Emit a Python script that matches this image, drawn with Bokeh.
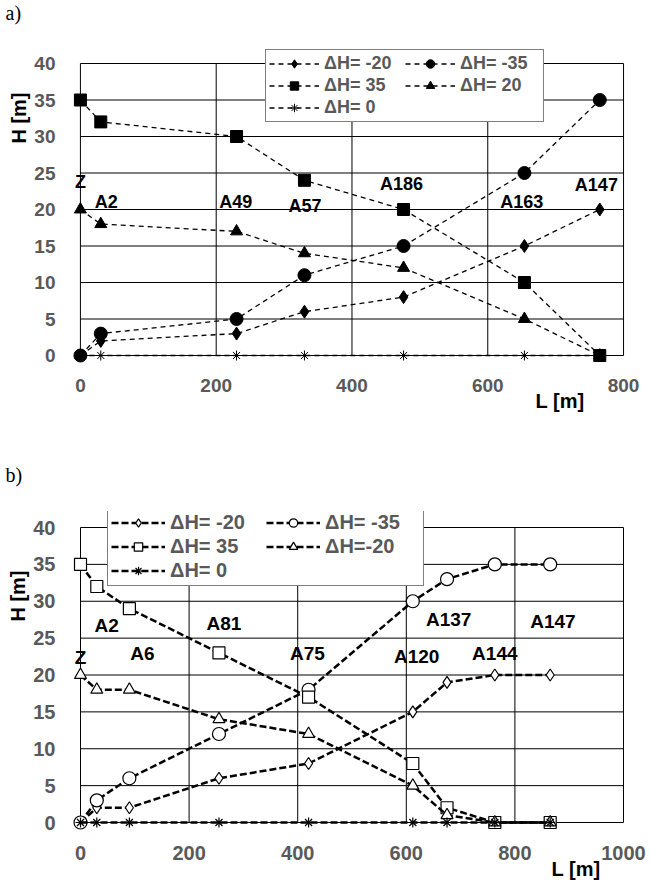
import math
from bokeh.plotting import figure
from bokeh.layouts import column
from bokeh.models import (Legend, LegendItem, LabelSet, ColumnDataSource,
                          FixedTicker, Range1d, Title)
from bokeh.core.properties import value
from bokeh.embed import file_html
from bokeh.resources import INLINE

# ---------------- data: panel a ----------------
a_L = [0, 30, 230, 330, 476, 654, 765]
a_m20 = [0, 2, 3, 6, 8, 15, 20]
a_m35 = [0, 3, 5, 11, 15, 25, 35]
a_p35 = [35, 32, 30, 24, 20, 10, 0]
a_p20 = [20, 18, 17, 14, 12, 5, 0]
a_zero = [0, 0, 0, 0, 0, 0, 0]
a_names = ["Z", "A2", "A49", "A57", "A186", "A163", "A147"]
a_name_x = [0, 38, 229, 331, 473, 650, 760]
a_name_y = [23.7, 21.0, 21.0, 20.5, 23.5, 21.0, 23.3]
a_xticks = [0, 200, 400, 600, 800]

# ---------------- data: panel b ----------------
b_L = [0, 30, 90, 255, 420, 612, 675, 763, 865]
b_m20 = [0, 2, 2, 6, 8, 15, 19, 20, 20]
b_m35 = [0, 3, 6, 12, 18, 30, 33, 35, 35]
b_p35 = [35, 32, 29, 23, 17, 8, 2, 0, 0]
b_p20 = [20, 18, 18, 14, 12, 5, 1, 0, 0]
b_zero = [0, 0, 0, 0, 0, 0, 0, 0, 0]
b_names = ["Z", "A2", "A6", "A81", "A75", "A120", "A137", "A144", "A147"]
b_name_x = [0, 48, 114, 264, 418, 619, 678, 763, 870]
b_name_y = [22.4, 26.7, 22.9, 27.0, 22.9, 22.5, 27.5, 22.9, 27.3]
b_xticks = [0, 200, 400, 600, 800, 1000]

yticks = [0, 5, 10, 15, 20, 25, 30, 35, 40]
labels_a = ["\u0394H= -20", "\u0394H= -35", "\u0394H= 35", "\u0394H= 20", "\u0394H= 0"]
labels_b = ["\u0394H= -20", "\u0394H= -35", "\u0394H= 35", "\u0394H=-20", "\u0394H= 0"]

FONT = "Liberation Sans"
GRAY = "#595959"


def make_panel(tag, L, series, labels, names, nx, ny, xticks, xmax, pxx, pxy,
               height, bl, br, bt, bb, padt, filled, lw, dash, tick_fs, name_fs,
               leg_fs, leg_loc, leg_glyph_w, leg_label_w, tag_cfg, h_cfg, l_cfg):
    padl, padr, padb = 10, 4, 10
    p = figure(width=651, height=height, output_backend="svg", toolbar_location=None,
               x_range=Range1d(-padl / pxx, xmax + padr / pxx),
               y_range=Range1d(-padb / pxy, 40 + padt / pxy),
               min_border_left=bl, min_border_right=br, min_border_top=bt,
               min_border_bottom=bb)
    p.outline_line_color = None
    p.xgrid.visible = False
    p.ygrid.visible = False
    p.background_fill_color = "white"
    p.border_fill_color = "white"

    # grid lines and frame drawn from the tick lists
    p.segment(x0=xticks, y0=[0] * len(xticks), x1=xticks, y1=[40] * len(xticks),
              line_color="black", line_width=1)
    p.segment(x0=[0] * len(yticks), y0=yticks, x1=[xmax] * len(yticks), y1=yticks,
              line_color="black", line_width=1)

    for ax in (p.xaxis[0], p.yaxis[0]):
        ax.axis_line_color = None
        ax.major_tick_line_color = None
        ax.minor_tick_line_color = None
        ax.major_label_text_font = FONT
        ax.major_label_text_font_style = "bold"
        ax.major_label_text_color = GRAY
        ax.major_label_text_font_size = tick_fs
    p.xaxis.ticker = FixedTicker(ticks=xticks)
    p.yaxis.ticker = FixedTicker(ticks=yticks)
    p.xaxis.major_label_standoff = 7
    p.yaxis.major_label_standoff = 9

    markers = ["diamond", "circle", "square", "triangle", "asterisk"]
    sizes = [13, 13, 12, 12, 10] if filled else [12, 13, 12, 12, 10]
    items = []
    for ys, mk, sz, lab in zip(series, markers, sizes, labels):
        lr = p.line(L, ys, line_color="black", line_width=lw, line_dash=dash)
        if filled:
            sr = p.scatter(L, ys, marker=mk, size=sz, fill_color="black",
                           line_color="black", line_width=1)
        else:
            sr = p.scatter(L, ys, marker=mk, size=sz, fill_color="white",
                           line_color="black", line_width=1.2)
        items.append(LegendItem(label=lab, renderers=[lr, sr]))

    src = ColumnDataSource(dict(x=nx, y=ny, t=names))
    p.add_layout(LabelSet(x="x", y="y", text="t", source=src, text_font=value(FONT),
                          text_font_style="bold", text_font_size=name_fs,
                          text_color="black", text_align="center",
                          text_baseline="middle"))

    leg = Legend(items=items, location=leg_loc, orientation="horizontal", ncols=2,
                 label_text_font=FONT, label_text_font_style="bold",
                 label_text_color=GRAY, label_text_font_size=leg_fs,
                 glyph_width=leg_glyph_w, glyph_height=21, label_height=21,
                 label_width=leg_label_w, label_standoff=5, spacing=1, padding=3,
                 margin=0, border_line_color="black", border_line_width=1,
                 background_fill_color="white", background_fill_alpha=1)
    p.add_layout(leg, "center")

    # spacer between the frame and the panel tag, then the tag ("a)" / "b)")
    p.title.text = ""
    p.add_layout(Title(text=" ", standoff=0, text_font_size=tag_cfg[1]), "above")
    p.add_layout(Title(text=tag, align="left", vertical_align="top",
                       offset=tag_cfg[0], standoff=0,
                       text_font="Liberation Serif", text_font_style="normal",
                       text_font_size="20px", text_color="black"), "above")

    p.add_layout(Title(text="H [m]", align="right", offset=h_cfg[0], standoff=h_cfg[1],
                       text_font=FONT, text_font_style="bold", text_font_size="20px",
                       text_color="black"), "left")
    p.add_layout(Title(text="L [m]", align="right", vertical_align="top",
                       offset=l_cfg[0], standoff=l_cfg[1],
                       text_font=FONT, text_font_style="bold", text_font_size="20px",
                       text_color="black"), "below")
    return p


pa = make_panel("a)", a_L, [a_m20, a_m35, a_p35, a_p20, a_zero], labels_a,
                a_names, a_name_x, a_name_y, a_xticks, 800, 0.685, 7.3,
                448, 70, 18, 49, 83, 14, True, 1.3, "5 4", "19px", "18px", "18px",
                (195, 243), 50, 80,
                (-65, "20px"), (43, 4), (43, -10))

pb = make_panel("b)", b_L, [b_m20, b_m35, b_p35, b_p20, b_zero], labels_b,
                b_names, b_name_x, b_name_y, b_xticks, 1000, 0.5425, 7.375,
                438, 70, 24, 63, 54, 16, False, 2.5, "7 3", "20px", "19px", "20px",
                (37, 246), 54, 95,
                (-65, "20px"), (59, 4), (27, -10))

layout = column(pa, pb, spacing=0)
open("out.html", "w").write(file_html(layout, INLINE))
